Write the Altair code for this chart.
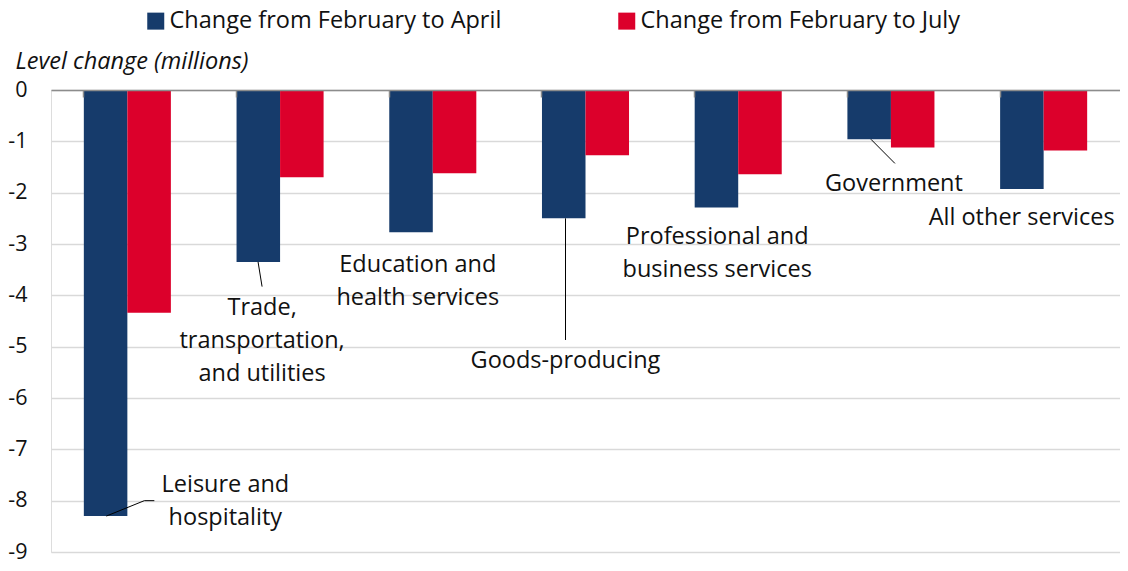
import altair as alt
import pandas as pd

categories = [
    "Leisure and hospitality",
    "Trade, transportation, and utilities",
    "Education and health services",
    "Goods-producing",
    "Professional and business services",
    "Government",
    "All other services",
]
april = [-8.30, -3.35, -2.77, -2.50, -2.29, -0.96, -1.93]
july = [-4.34, -1.70, -1.62, -1.27, -1.64, -1.12, -1.18]
series = ["Change from February to April", "Change from February to July"]
colors = ["#163b6b", "#dc002b"]
y_ticks = [0, -1, -2, -3, -4, -5, -6, -7, -8, -9]

label_text = [
    "Leisure and\nhospitality",
    "Trade,\ntransportation,\nand utilities",
    "Education and\nhealth services",
    "Goods-producing",
    "Professional and\nbusiness services",
    "Government",
    "All other services",
]
# y of the first text line (value units) and horizontal shift from the category centre
label_y = [-7.69, -4.24, -3.41, -5.28, -2.87, -1.83, -2.50]
label_dx = [98, -18, -15, -20, -21, 3, -22]

# leader segments: category index, y start, y end, x offset start, x offset end
leader_cat = [0, 0, 1, 3, 5]
leader_y1 = [-8.30, -8.0, -3.35, -2.50, -0.96]
leader_y2 = [-8.0, -8.0, -3.83, -4.87, -1.43]
leader_dx1 = [-21, 17, -22, -20, -20]
leader_dx2 = [17, 27, -18, -20, 4]

W, H = 1069, 462
FONT = "Open Sans"
TEXT = "#111111"
LABEL_SIZE = 23.5

rows = []
for c, a, j in zip(categories, april, july):
    rows.append({"category": c, "series": series[0], "value": a})
    rows.append({"category": c, "series": series[1], "value": j})
df = pd.DataFrame(rows)

xscale = alt.Scale(domain=categories, paddingInner=0.43, paddingOuter=0.215)
yscale = alt.Scale(domain=[-9, 0], nice=False)

xaxis = alt.Axis(
    labels=False, title=None, orient="bottom", offset=-H,
    domainColor="#8c8c8c", domainWidth=1.5,
    tickColor="#8c8c8c", tickSize=7, tickWidth=1.5,
    bandPosition=0, grid=False, zindex=1,
)
yaxis = alt.Axis(
    values=y_ticks, domain=False, ticks=False,
    grid=True, gridColor="#d9d9d9", gridWidth=1.5,
    labelPadding=24, labelFontSize=21.5, labelColor=TEXT, labelFont=FONT,
    labelExpr="datum.value == 0 ? '0' : '-' + abs(datum.value)",
    title="Level change (millions)", titleAngle=0, titleAlign="left",
    titleBaseline="middle", titleX=-36, titleY=-29,
    titleFontStyle="italic", titleFontWeight="normal",
    titleFontSize=23.5, titleFont=FONT, titleColor=TEXT,
)

bars = alt.Chart(df).mark_bar().encode(
    x=alt.X("category:N", scale=xscale, sort=categories, axis=xaxis),
    xOffset=alt.XOffset("series:N", sort=series,
                        scale=alt.Scale(paddingInner=0, paddingOuter=0)),
    y=alt.Y("value:Q", scale=yscale, axis=yaxis),
    color=alt.Color(
        "series:N",
        scale=alt.Scale(domain=series, range=colors),
        legend=alt.Legend(
            title=None, orient="none", legendX=93, legendY=-81,
            direction="horizontal", symbolType="square", symbolSize=289,
            symbolStrokeWidth=0, labelFontSize=LABEL_SIZE, labelFont=FONT,
            labelColor=TEXT, labelOffset=2, columnPadding=113, padding=0,
            labelLimit=400,
        ),
    ),
)

layers = [bars]

for i in range(len(leader_cat)):
    seg = pd.DataFrame({
        "category": [categories[leader_cat[i]]],
        "value": [leader_y1[i]],
        "value2": [leader_y2[i]],
    })
    layers.append(
        alt.Chart(seg).mark_rule(
            color="black", strokeWidth=1,
            xOffset=leader_dx1[i], x2Offset=leader_dx2[i],
        ).encode(
            x=alt.X("category:N", scale=xscale, axis=xaxis),
            x2="category:N",
            y=alt.Y("value:Q", scale=yscale, axis=yaxis),
            y2="value2:Q",
        )
    )

for i in range(len(label_text)):
    lab = pd.DataFrame({
        "category": [categories[i]],
        "value": [label_y[i]],
        "text": [label_text[i]],
    })
    layers.append(
        alt.Chart(lab).mark_text(
            dx=label_dx[i], fontSize=LABEL_SIZE, font=FONT, lineHeight=33,
            baseline="middle", align="center", color=TEXT, lineBreak="\n",
        ).encode(
            x=alt.X("category:N", scale=xscale, axis=xaxis),
            y=alt.Y("value:Q", scale=yscale, axis=yaxis),
            text="text:N",
        )
    )

chart = alt.layer(*layers).properties(
    width=W, height=H,
    padding={"left": 43, "top": 82, "right": 0, "bottom": 11},
    autosize=alt.AutoSizeParams(type="none"),
).configure_view(stroke=None).configure(font=FONT)

chart.save("out.html", embed_options={"renderer": "svg", "actions": False})
